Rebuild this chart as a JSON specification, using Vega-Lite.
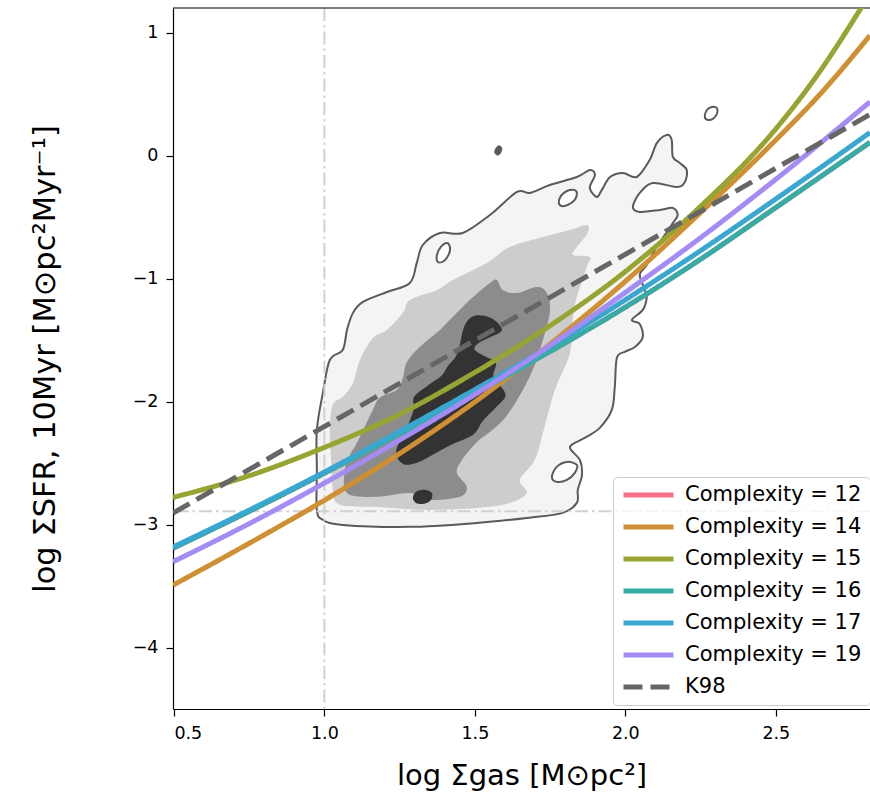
{
"$schema":"https://vega.github.io/schema/vega-lite/v6.json",
"width":697,"height":701,
"autosize":{"type":"none"},
"padding":{"left":173,"top":8,"right":0,"bottom":91},
"background":"white",
"config":{
"view":{"stroke":null},
"font":"DejaVu Sans",
"axis":{"domainColor":"#000","domainWidth":1.2,"tickColor":"#000","tickWidth":1.2,"tickSize":7,"labelColor":"#000","labelFontSize":17.5,"labelFont":"DejaVu Sans","titleFont":"DejaVu Sans","titleFontSize":29,"titleFontWeight":"normal","titleColor":"#000","grid":false},
"legend":{"symbolType":"stroke","symbolSize":2500,"symbolStrokeWidth":5,"clipHeight":20,"rowPadding":11,"labelFontSize":21,"labelFont":"DejaVu Sans","labelColor":"#000","labelOffset":9,"padding":8,"fillColor":"rgba(255,255,255,0.8)","strokeColor":"#cccccc","cornerRadius":4,"labelLimit":400}
},
"datasets":{
"contours":[
{"kind":"outer","poly":"o","i":1,"x":0.995,"y":-2.959},
{"kind":"outer","poly":"o","i":2,"x":0.975,"y":-2.878},
{"kind":"outer","poly":"o","i":3,"x":0.975,"y":-2.553},
{"kind":"outer","poly":"o","i":4,"x":0.975,"y":-2.228},
{"kind":"outer","poly":"o","i":5,"x":0.995,"y":-1.927},
{"kind":"outer","poly":"o","i":6,"x":1.018,"y":-1.659},
{"kind":"outer","poly":"o","i":7,"x":1.061,"y":-1.577},
{"kind":"outer","poly":"o","i":8,"x":1.075,"y":-1.415},
{"kind":"outer","poly":"o","i":9,"x":1.095,"y":-1.276},
{"kind":"outer","poly":"o","i":10,"x":1.128,"y":-1.187},
{"kind":"outer","poly":"o","i":11,"x":1.208,"y":-1.106},
{"kind":"outer","poly":"o","i":12,"x":1.284,"y":-1.033},
{"kind":"outer","poly":"o","i":13,"x":1.307,"y":-0.870},
{"kind":"outer","poly":"o","i":14,"x":1.327,"y":-0.724},
{"kind":"outer","poly":"o","i":15,"x":1.384,"y":-0.626},
{"kind":"outer","poly":"o","i":16,"x":1.460,"y":-0.626},
{"kind":"outer","poly":"o","i":17,"x":1.550,"y":-0.480},
{"kind":"outer","poly":"o","i":18,"x":1.640,"y":-0.293},
{"kind":"outer","poly":"o","i":19,"x":1.683,"y":-0.301},
{"kind":"outer","poly":"o","i":20,"x":1.749,"y":-0.236},
{"kind":"outer","poly":"o","i":21,"x":1.839,"y":-0.171},
{"kind":"outer","poly":"o","i":22,"x":1.882,"y":-0.114},
{"kind":"outer","poly":"o","i":23,"x":1.899,"y":-0.154},
{"kind":"outer","poly":"o","i":24,"x":1.882,"y":-0.260},
{"kind":"outer","poly":"o","i":25,"x":1.905,"y":-0.333},
{"kind":"outer","poly":"o","i":26,"x":1.922,"y":-0.276},
{"kind":"outer","poly":"o","i":27,"x":1.949,"y":-0.171},
{"kind":"outer","poly":"o","i":28,"x":1.992,"y":-0.138},
{"kind":"outer","poly":"o","i":29,"x":2.038,"y":-0.171},
{"kind":"outer","poly":"o","i":30,"x":2.081,"y":-0.033},
{"kind":"outer","poly":"o","i":31,"x":2.105,"y":0.106},
{"kind":"outer","poly":"o","i":32,"x":2.138,"y":0.171},
{"kind":"outer","poly":"o","i":33,"x":2.154,"y":0.130},
{"kind":"outer","poly":"o","i":34,"x":2.158,"y":-0.008},
{"kind":"outer","poly":"o","i":35,"x":2.181,"y":-0.057},
{"kind":"outer","poly":"o","i":36,"x":2.204,"y":-0.114},
{"kind":"outer","poly":"o","i":37,"x":2.198,"y":-0.211},
{"kind":"outer","poly":"o","i":38,"x":2.171,"y":-0.252},
{"kind":"outer","poly":"o","i":39,"x":2.091,"y":-0.220},
{"kind":"outer","poly":"o","i":40,"x":2.048,"y":-0.301},
{"kind":"outer","poly":"o","i":41,"x":2.025,"y":-0.415},
{"kind":"outer","poly":"o","i":42,"x":2.048,"y":-0.455},
{"kind":"outer","poly":"o","i":43,"x":2.115,"y":-0.439},
{"kind":"outer","poly":"o","i":44,"x":2.158,"y":-0.423},
{"kind":"outer","poly":"o","i":45,"x":2.174,"y":-0.480},
{"kind":"outer","poly":"o","i":46,"x":2.158,"y":-0.545},
{"kind":"outer","poly":"o","i":47,"x":2.138,"y":-0.618},
{"kind":"outer","poly":"o","i":48,"x":2.098,"y":-0.764},
{"kind":"outer","poly":"o","i":49,"x":2.071,"y":-0.886},
{"kind":"outer","poly":"o","i":50,"x":2.048,"y":-0.967},
{"kind":"outer","poly":"o","i":51,"x":2.065,"y":-1.089},
{"kind":"outer","poly":"o","i":52,"x":2.071,"y":-1.154},
{"kind":"outer","poly":"o","i":53,"x":2.058,"y":-1.252},
{"kind":"outer","poly":"o","i":54,"x":2.022,"y":-1.333},
{"kind":"outer","poly":"o","i":55,"x":2.048,"y":-1.366},
{"kind":"outer","poly":"o","i":56,"x":2.058,"y":-1.472},
{"kind":"outer","poly":"o","i":57,"x":2.032,"y":-1.553},
{"kind":"outer","poly":"o","i":58,"x":1.998,"y":-1.593},
{"kind":"outer","poly":"o","i":59,"x":1.972,"y":-1.642},
{"kind":"outer","poly":"o","i":60,"x":1.965,"y":-1.878},
{"kind":"outer","poly":"o","i":61,"x":1.955,"y":-2.065},
{"kind":"outer","poly":"o","i":62,"x":1.915,"y":-2.211},
{"kind":"outer","poly":"o","i":63,"x":1.865,"y":-2.293},
{"kind":"outer","poly":"o","i":64,"x":1.816,"y":-2.366},
{"kind":"outer","poly":"o","i":65,"x":1.849,"y":-2.472},
{"kind":"outer","poly":"o","i":66,"x":1.856,"y":-2.593},
{"kind":"outer","poly":"o","i":67,"x":1.842,"y":-2.715},
{"kind":"outer","poly":"o","i":68,"x":1.839,"y":-2.821},
{"kind":"outer","poly":"o","i":69,"x":1.792,"y":-2.902},
{"kind":"outer","poly":"o","i":70,"x":1.673,"y":-2.943},
{"kind":"outer","poly":"o","i":71,"x":1.507,"y":-2.984},
{"kind":"outer","poly":"o","i":72,"x":1.284,"y":-3.016},
{"kind":"outer","poly":"o","i":73,"x":1.061,"y":-3.000},
{"kind":"hole","poly":"h1","i":1,"x":1.377,"y":-0.862},
{"kind":"hole","poly":"h1","i":2,"x":1.374,"y":-0.805},
{"kind":"hole","poly":"h1","i":3,"x":1.387,"y":-0.740},
{"kind":"hole","poly":"h1","i":4,"x":1.407,"y":-0.707},
{"kind":"hole","poly":"h1","i":5,"x":1.417,"y":-0.740},
{"kind":"hole","poly":"h1","i":6,"x":1.414,"y":-0.797},
{"kind":"hole","poly":"h1","i":7,"x":1.397,"y":-0.854},
{"kind":"hole","poly":"h2","i":1,"x":1.779,"y":-0.382},
{"kind":"hole","poly":"h2","i":2,"x":1.786,"y":-0.325},
{"kind":"hole","poly":"h2","i":3,"x":1.806,"y":-0.285},
{"kind":"hole","poly":"h2","i":4,"x":1.829,"y":-0.276},
{"kind":"hole","poly":"h2","i":5,"x":1.839,"y":-0.301},
{"kind":"hole","poly":"h2","i":6,"x":1.832,"y":-0.358},
{"kind":"hole","poly":"h2","i":7,"x":1.809,"y":-0.398},
{"kind":"hole","poly":"h2","i":8,"x":1.789,"y":-0.407},
{"kind":"hole","poly":"h3","i":1,"x":1.756,"y":-2.610},
{"kind":"hole","poly":"h3","i":2,"x":1.772,"y":-2.528},
{"kind":"hole","poly":"h3","i":3,"x":1.806,"y":-2.488},
{"kind":"hole","poly":"h3","i":4,"x":1.839,"y":-2.512},
{"kind":"hole","poly":"h3","i":5,"x":1.832,"y":-2.577},
{"kind":"hole","poly":"h3","i":6,"x":1.806,"y":-2.634},
{"kind":"hole","poly":"h3","i":7,"x":1.772,"y":-2.650},
{"kind":"isle","poly":"e1","i":1,"x":2.264,"y":0.317},
{"kind":"isle","poly":"e1","i":2,"x":2.271,"y":0.374},
{"kind":"isle","poly":"e1","i":3,"x":2.287,"y":0.398},
{"kind":"isle","poly":"e1","i":4,"x":2.304,"y":0.390},
{"kind":"isle","poly":"e1","i":5,"x":2.304,"y":0.341},
{"kind":"isle","poly":"e1","i":6,"x":2.291,"y":0.301},
{"kind":"isle","poly":"e1","i":7,"x":2.274,"y":0.293},
{"kind":"dot","poly":"d1","i":1,"x":1.566,"y":0.033},
{"kind":"dot","poly":"d1","i":2,"x":1.573,"y":0.073},
{"kind":"dot","poly":"d1","i":3,"x":1.583,"y":0.081},
{"kind":"dot","poly":"d1","i":4,"x":1.590,"y":0.057},
{"kind":"dot","poly":"d1","i":5,"x":1.583,"y":0.016},
{"kind":"dot","poly":"d1","i":6,"x":1.573,"y":0.008},
{"kind":"l2","poly":"a","i":1,"x":1.051,"y":-2.837},
{"kind":"l2","poly":"a","i":2,"x":1.028,"y":-2.715},
{"kind":"l2","poly":"a","i":3,"x":1.022,"y":-2.472},
{"kind":"l2","poly":"a","i":4,"x":1.018,"y":-2.228},
{"kind":"l2","poly":"a","i":5,"x":1.028,"y":-2.024},
{"kind":"l2","poly":"a","i":6,"x":1.061,"y":-1.959},
{"kind":"l2","poly":"a","i":7,"x":1.095,"y":-1.846},
{"kind":"l2","poly":"a","i":8,"x":1.118,"y":-1.659},
{"kind":"l2","poly":"a","i":9,"x":1.161,"y":-1.480},
{"kind":"l2","poly":"a","i":10,"x":1.208,"y":-1.415},
{"kind":"l2","poly":"a","i":11,"x":1.261,"y":-1.276},
{"kind":"l2","poly":"a","i":12,"x":1.284,"y":-1.171},
{"kind":"l2","poly":"a","i":13,"x":1.374,"y":-1.089},
{"kind":"l2","poly":"a","i":14,"x":1.427,"y":-1.008},
{"kind":"l2","poly":"a","i":15,"x":1.540,"y":-0.870},
{"kind":"l2","poly":"a","i":16,"x":1.616,"y":-0.740},
{"kind":"l2","poly":"a","i":17,"x":1.726,"y":-0.659},
{"kind":"l2","poly":"a","i":18,"x":1.816,"y":-0.602},
{"kind":"l2","poly":"a","i":19,"x":1.872,"y":-0.561},
{"kind":"l2","poly":"a","i":20,"x":1.875,"y":-0.626},
{"kind":"l2","poly":"a","i":21,"x":1.839,"y":-0.740},
{"kind":"l2","poly":"a","i":22,"x":1.826,"y":-0.805},
{"kind":"l2","poly":"a","i":23,"x":1.882,"y":-0.821},
{"kind":"l2","poly":"a","i":24,"x":1.872,"y":-0.902},
{"kind":"l2","poly":"a","i":25,"x":1.839,"y":-1.146},
{"kind":"l2","poly":"a","i":26,"x":1.826,"y":-1.309},
{"kind":"l2","poly":"a","i":27,"x":1.816,"y":-1.602},
{"kind":"l2","poly":"a","i":28,"x":1.772,"y":-1.862},
{"kind":"l2","poly":"a","i":29,"x":1.749,"y":-2.041},
{"kind":"l2","poly":"a","i":30,"x":1.726,"y":-2.252},
{"kind":"l2","poly":"a","i":31,"x":1.699,"y":-2.472},
{"kind":"l2","poly":"a","i":32,"x":1.650,"y":-2.634},
{"kind":"l2","poly":"a","i":33,"x":1.673,"y":-2.740},
{"kind":"l2","poly":"a","i":34,"x":1.616,"y":-2.821},
{"kind":"l2","poly":"a","i":35,"x":1.507,"y":-2.862},
{"kind":"l2","poly":"a","i":36,"x":1.341,"y":-2.878},
{"kind":"l2","poly":"a","i":37,"x":1.174,"y":-2.854},
{"kind":"l3","poly":"b","i":1,"x":1.075,"y":-2.740},
{"kind":"l3","poly":"b","i":2,"x":1.068,"y":-2.553},
{"kind":"l3","poly":"b","i":3,"x":1.085,"y":-2.431},
{"kind":"l3","poly":"b","i":4,"x":1.108,"y":-2.333},
{"kind":"l3","poly":"b","i":5,"x":1.161,"y":-2.065},
{"kind":"l3","poly":"b","i":6,"x":1.184,"y":-1.967},
{"kind":"l3","poly":"b","i":7,"x":1.241,"y":-1.902},
{"kind":"l3","poly":"b","i":8,"x":1.261,"y":-1.805},
{"kind":"l3","poly":"b","i":9,"x":1.274,"y":-1.675},
{"kind":"l3","poly":"b","i":10,"x":1.317,"y":-1.553},
{"kind":"l3","poly":"b","i":11,"x":1.384,"y":-1.415},
{"kind":"l3","poly":"b","i":12,"x":1.440,"y":-1.276},
{"kind":"l3","poly":"b","i":13,"x":1.483,"y":-1.171},
{"kind":"l3","poly":"b","i":14,"x":1.550,"y":-1.033},
{"kind":"l3","poly":"b","i":15,"x":1.573,"y":-1.008},
{"kind":"l3","poly":"b","i":16,"x":1.593,"y":-1.089},
{"kind":"l3","poly":"b","i":17,"x":1.640,"y":-1.114},
{"kind":"l3","poly":"b","i":18,"x":1.706,"y":-1.065},
{"kind":"l3","poly":"b","i":19,"x":1.739,"y":-1.114},
{"kind":"l3","poly":"b","i":20,"x":1.749,"y":-1.276},
{"kind":"l3","poly":"b","i":21,"x":1.716,"y":-1.577},
{"kind":"l3","poly":"b","i":22,"x":1.689,"y":-1.756},
{"kind":"l3","poly":"b","i":23,"x":1.650,"y":-1.943},
{"kind":"l3","poly":"b","i":24,"x":1.600,"y":-2.130},
{"kind":"l3","poly":"b","i":25,"x":1.550,"y":-2.244},
{"kind":"l3","poly":"b","i":26,"x":1.507,"y":-2.325},
{"kind":"l3","poly":"b","i":27,"x":1.457,"y":-2.472},
{"kind":"l3","poly":"b","i":28,"x":1.440,"y":-2.577},
{"kind":"l3","poly":"b","i":29,"x":1.473,"y":-2.691},
{"kind":"l3","poly":"b","i":30,"x":1.450,"y":-2.772},
{"kind":"l3","poly":"b","i":31,"x":1.350,"y":-2.797},
{"kind":"l3","poly":"b","i":32,"x":1.284,"y":-2.740},
{"kind":"l3","poly":"b","i":33,"x":1.168,"y":-2.772},
{"kind":"l4","poly":"c","i":1,"x":1.500,"y":-1.300},
{"kind":"l4","poly":"c","i":2,"x":1.555,"y":-1.320},
{"kind":"l4","poly":"c","i":3,"x":1.590,"y":-1.415},
{"kind":"l4","poly":"c","i":4,"x":1.545,"y":-1.480},
{"kind":"l4","poly":"c","i":5,"x":1.510,"y":-1.525},
{"kind":"l4","poly":"c","i":6,"x":1.500,"y":-1.577},
{"kind":"l4","poly":"c","i":7,"x":1.535,"y":-1.630},
{"kind":"l4","poly":"c","i":8,"x":1.570,"y":-1.683},
{"kind":"l4","poly":"c","i":9,"x":1.562,"y":-1.797},
{"kind":"l4","poly":"c","i":10,"x":1.595,"y":-1.902},
{"kind":"l4","poly":"c","i":11,"x":1.600,"y":-1.965},
{"kind":"l4","poly":"c","i":12,"x":1.568,"y":-2.050},
{"kind":"l4","poly":"c","i":13,"x":1.525,"y":-2.160},
{"kind":"l4","poly":"c","i":14,"x":1.495,"y":-2.265},
{"kind":"l4","poly":"c","i":15,"x":1.420,"y":-2.350},
{"kind":"l4","poly":"c","i":16,"x":1.360,"y":-2.430},
{"kind":"l4","poly":"c","i":17,"x":1.312,"y":-2.490},
{"kind":"l4","poly":"c","i":18,"x":1.268,"y":-2.510},
{"kind":"l4","poly":"c","i":19,"x":1.242,"y":-2.455},
{"kind":"l4","poly":"c","i":20,"x":1.242,"y":-2.366},
{"kind":"l4","poly":"c","i":21,"x":1.275,"y":-2.203},
{"kind":"l4","poly":"c","i":22,"x":1.296,"y":-2.065},
{"kind":"l4","poly":"c","i":23,"x":1.298,"y":-1.959},
{"kind":"l4","poly":"c","i":24,"x":1.342,"y":-1.870},
{"kind":"l4","poly":"c","i":25,"x":1.388,"y":-1.790},
{"kind":"l4","poly":"c","i":26,"x":1.410,"y":-1.710},
{"kind":"l4","poly":"c","i":27,"x":1.443,"y":-1.600},
{"kind":"l4","poly":"c","i":28,"x":1.465,"y":-1.385},
{"kind":"l4","poly":"c2","i":1,"x":1.294,"y":-2.780},
{"kind":"l4","poly":"c2","i":2,"x":1.304,"y":-2.732},
{"kind":"l4","poly":"c2","i":3,"x":1.331,"y":-2.715},
{"kind":"l4","poly":"c2","i":4,"x":1.357,"y":-2.740},
{"kind":"l4","poly":"c2","i":5,"x":1.354,"y":-2.797},
{"kind":"l4","poly":"c2","i":6,"x":1.331,"y":-2.829},
{"kind":"l4","poly":"c2","i":7,"x":1.304,"y":-2.821}
],
"curves":[
{"series":"Complexity = 12","x":0.497,"y":-3.19},{"series":"Complexity = 12","x":0.75,"y":-2.89},{"series":"Complexity = 12","x":1.0,"y":-2.58},{"series":"Complexity = 12","x":1.25,"y":-2.26},{"series":"Complexity = 12","x":1.5,"y":-1.93},{"series":"Complexity = 12","x":1.75,"y":-1.59},{"series":"Complexity = 12","x":2.0,"y":-1.23},{"series":"Complexity = 12","x":2.25,"y":-0.84},{"series":"Complexity = 12","x":2.5,"y":-0.42},{"series":"Complexity = 12","x":2.813,"y":0.11},
{"series":"Complexity = 14","x":0.497,"y":-3.49},{"series":"Complexity = 14","x":0.75,"y":-3.15},{"series":"Complexity = 14","x":1.0,"y":-2.80},{"series":"Complexity = 14","x":1.25,"y":-2.42},{"series":"Complexity = 14","x":1.5,"y":-2.00},{"series":"Complexity = 14","x":1.75,"y":-1.53},{"series":"Complexity = 14","x":2.0,"y":-1.02},{"series":"Complexity = 14","x":2.25,"y":-0.46},{"series":"Complexity = 14","x":2.5,"y":0.13},{"series":"Complexity = 14","x":2.65,"y":0.51},{"series":"Complexity = 14","x":2.813,"y":0.98},
{"series":"Complexity = 15","x":0.497,"y":-2.777},{"series":"Complexity = 15","x":0.75,"y":-2.60},{"series":"Complexity = 15","x":1.0,"y":-2.37},{"series":"Complexity = 15","x":1.25,"y":-2.10},{"series":"Complexity = 15","x":1.5,"y":-1.76},{"series":"Complexity = 15","x":1.75,"y":-1.38},{"series":"Complexity = 15","x":2.0,"y":-0.94},{"series":"Complexity = 15","x":2.25,"y":-0.41},{"series":"Complexity = 15","x":2.5,"y":0.22},{"series":"Complexity = 15","x":2.65,"y":0.70},{"series":"Complexity = 15","x":2.78,"y":1.19},{"series":"Complexity = 15","x":2.813,"y":1.32},
{"series":"Complexity = 16","x":0.497,"y":-3.19},{"series":"Complexity = 16","x":0.75,"y":-2.89},{"series":"Complexity = 16","x":1.0,"y":-2.58},{"series":"Complexity = 16","x":1.25,"y":-2.26},{"series":"Complexity = 16","x":1.5,"y":-1.93},{"series":"Complexity = 16","x":1.75,"y":-1.59},{"series":"Complexity = 16","x":2.0,"y":-1.23},{"series":"Complexity = 16","x":2.25,"y":-0.84},{"series":"Complexity = 16","x":2.5,"y":-0.42},{"series":"Complexity = 16","x":2.813,"y":0.11},
{"series":"Complexity = 17","x":0.497,"y":-3.18},{"series":"Complexity = 17","x":0.75,"y":-2.88},{"series":"Complexity = 17","x":1.0,"y":-2.57},{"series":"Complexity = 17","x":1.25,"y":-2.24},{"series":"Complexity = 17","x":1.5,"y":-1.90},{"series":"Complexity = 17","x":1.75,"y":-1.55},{"series":"Complexity = 17","x":2.0,"y":-1.17},{"series":"Complexity = 17","x":2.25,"y":-0.77},{"series":"Complexity = 17","x":2.5,"y":-0.35},{"series":"Complexity = 17","x":2.813,"y":0.19},
{"series":"Complexity = 19","x":0.497,"y":-3.30},{"series":"Complexity = 19","x":0.75,"y":-2.99},{"series":"Complexity = 19","x":1.0,"y":-2.66},{"series":"Complexity = 19","x":1.25,"y":-2.31},{"series":"Complexity = 19","x":1.5,"y":-1.94},{"series":"Complexity = 19","x":1.75,"y":-1.54},{"series":"Complexity = 19","x":2.0,"y":-1.11},{"series":"Complexity = 19","x":2.25,"y":-0.665},{"series":"Complexity = 19","x":2.5,"y":-0.19},{"series":"Complexity = 19","x":2.813,"y":0.44}
],
"k98":[
{"series":"K98","x":0.497,"y":-2.904},{"series":"K98","x":2.813,"y":0.338}
]
},
"layer":[
{"data":{"name":"contours"},"transform":[{"filter":"datum.kind == 'outer'"}],
"mark":{"type":"line","interpolate":"cardinal-closed","fill":"#f4f4f4","stroke":"#5a5a5a","strokeWidth":2,"clip":true},
"encoding":{
"x":{"field":"x","type":"quantitative","scale":{"domain":[0.497,2.813],"nice":false,"zero":false},"axis":{"title":"log Σgas [M⊙pc²]","values":[0.5,1.0,1.5,2.0,2.5],"format":".1f","labelPadding":8,"titlePadding":20,"titleFontSize":29}},
"y":{"field":"y","type":"quantitative","scale":{"domain":[-4.497,1.203],"nice":false,"zero":false},"axis":{"title":"log ΣSFR, 10Myr [M⊙pc²Myr⁻¹]","values":[-4,-3,-2,-1,0,1],"format":"d","labelPadding":8,"titlePadding":72,"titleFontSize":30.5}},
"order":{"field":"i","type":"quantitative"},
"detail":{"field":"poly","type":"nominal"}}},
{"data":{"name":"contours"},"transform":[{"filter":"datum.kind == 'hole'"}],
"mark":{"type":"line","interpolate":"cardinal-closed","fill":"#ffffff","stroke":"#5a5a5a","strokeWidth":2,"clip":true},
"encoding":{"x":{"field":"x","type":"quantitative"},"y":{"field":"y","type":"quantitative"},"order":{"field":"i","type":"quantitative"},"detail":{"field":"poly","type":"nominal"}}},
{"data":{"name":"contours"},"transform":[{"filter":"datum.kind == 'l2'"}],
"mark":{"type":"line","interpolate":"cardinal-closed","fill":"#cdcdcd","strokeWidth":0,"clip":true},
"encoding":{"x":{"field":"x","type":"quantitative"},"y":{"field":"y","type":"quantitative"},"order":{"field":"i","type":"quantitative"},"detail":{"field":"poly","type":"nominal"}}},
{"data":{"name":"contours"},"transform":[{"filter":"datum.kind == 'l3'"}],
"mark":{"type":"line","interpolate":"cardinal-closed","fill":"#8c8c8c","strokeWidth":0,"clip":true},
"encoding":{"x":{"field":"x","type":"quantitative"},"y":{"field":"y","type":"quantitative"},"order":{"field":"i","type":"quantitative"},"detail":{"field":"poly","type":"nominal"}}},
{"data":{"name":"contours"},"transform":[{"filter":"datum.kind == 'l4'"}],
"mark":{"type":"line","interpolate":"cardinal-closed","fill":"#333333","strokeWidth":0,"clip":true},
"encoding":{"x":{"field":"x","type":"quantitative"},"y":{"field":"y","type":"quantitative"},"order":{"field":"i","type":"quantitative"},"detail":{"field":"poly","type":"nominal"}}},
{"data":{"name":"contours"},"transform":[{"filter":"datum.kind == 'isle'"}],
"mark":{"type":"line","interpolate":"cardinal-closed","fill":"#ffffff","stroke":"#5a5a5a","strokeWidth":2,"clip":true},
"encoding":{"x":{"field":"x","type":"quantitative"},"y":{"field":"y","type":"quantitative"},"order":{"field":"i","type":"quantitative"},"detail":{"field":"poly","type":"nominal"}}},
{"data":{"name":"contours"},"transform":[{"filter":"datum.kind == 'dot'"}],
"mark":{"type":"line","interpolate":"cardinal-closed","fill":"#5a5a5a","stroke":"#5a5a5a","strokeWidth":1,"clip":true},
"encoding":{"x":{"field":"x","type":"quantitative"},"y":{"field":"y","type":"quantitative"},"order":{"field":"i","type":"quantitative"},"detail":{"field":"poly","type":"nominal"}}},
{"data":{"values":[{"x":1.0}]},
"mark":{"type":"rule","color":"#cfcfcf","strokeWidth":2,"strokeDash":[13,4,2.5,4],"opacity":0.95},
"encoding":{"x":{"field":"x","type":"quantitative"}}},
{"data":{"values":[{"y":-2.89}]},
"mark":{"type":"rule","color":"#cfcfcf","strokeWidth":2,"strokeDash":[13,4,2.5,4],"opacity":0.95},
"encoding":{"y":{"field":"y","type":"quantitative"}}},
{"data":{"values":[{"y":1.203}]},
"mark":{"type":"rule","color":"#000000","strokeWidth":1.2},
"encoding":{"y":{"field":"y","type":"quantitative"}}},
{"data":{"name":"curves"},
"mark":{"type":"line","strokeWidth":5,"interpolate":"monotone","clip":true},
"encoding":{"x":{"field":"x","type":"quantitative"},"y":{"field":"y","type":"quantitative"},
"color":{"field":"series","type":"nominal","scale":{"domain":["Complexity = 12","Complexity = 14","Complexity = 15","Complexity = 16","Complexity = 17","Complexity = 19","K98"],"range":["#f77189","#ce9032","#97a431","#36ada4","#39a7d0","#a48cf4","#666666"]},"legend":{"title":null,"orient":"none","legendX":440,"legendY":469}},
"strokeDash":{"field":"series","type":"nominal","scale":{"domain":["Complexity = 12","Complexity = 14","Complexity = 15","Complexity = 16","Complexity = 17","Complexity = 19","K98"],"range":[[1,0],[1,0],[1,0],[1,0],[1,0],[1,0],[19,8]]},"legend":{"title":null,"orient":"none","legendX":440,"legendY":469}}}},
{"data":{"name":"k98"},
"mark":{"type":"line","strokeWidth":5,"clip":true},
"encoding":{"x":{"field":"x","type":"quantitative"},"y":{"field":"y","type":"quantitative"},
"color":{"field":"series","type":"nominal","scale":{"domain":["Complexity = 12","Complexity = 14","Complexity = 15","Complexity = 16","Complexity = 17","Complexity = 19","K98"],"range":["#f77189","#ce9032","#97a431","#36ada4","#39a7d0","#a48cf4","#666666"]},"legend":{"title":null,"orient":"none","legendX":440,"legendY":469}},
"strokeDash":{"field":"series","type":"nominal","scale":{"domain":["Complexity = 12","Complexity = 14","Complexity = 15","Complexity = 16","Complexity = 17","Complexity = 19","K98"],"range":[[1,0],[1,0],[1,0],[1,0],[1,0],[1,0],[19,8]]},"legend":{"title":null,"orient":"none","legendX":440,"legendY":469}}}}
]
}
